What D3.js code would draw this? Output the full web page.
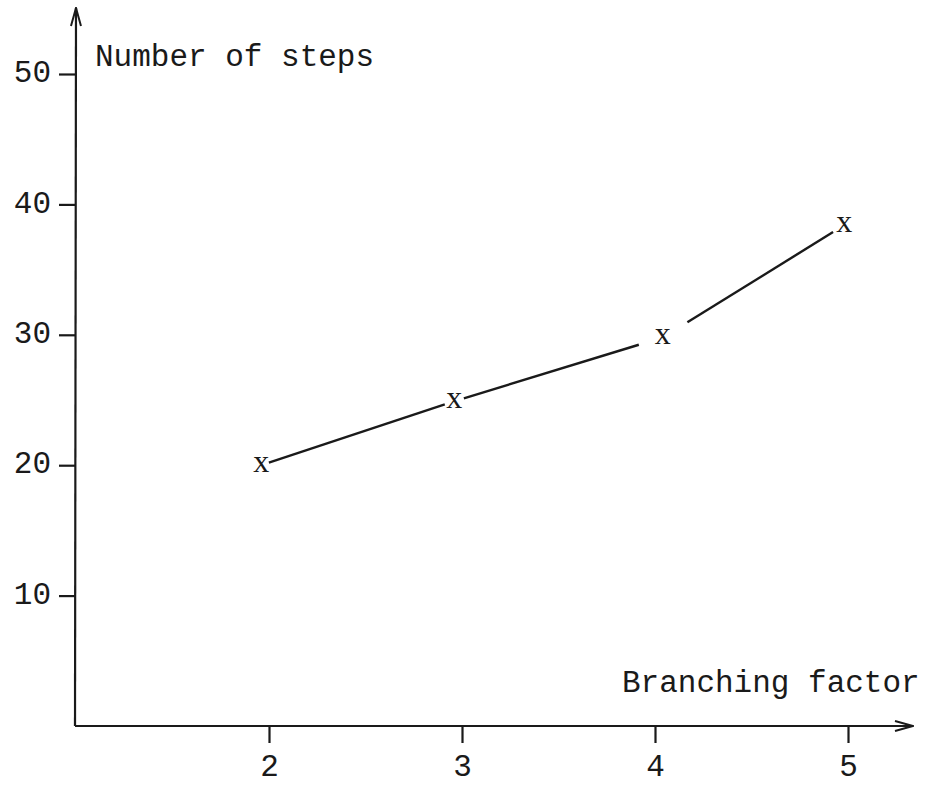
<!DOCTYPE html>
<html>
<head>
<meta charset="utf-8">
<script src="https://cdn.jsdelivr.net/npm/d3@7"></script>
<style>
  body { margin: 0; background: #fff; }
  svg text { fill: #1a1a1a; }
  .lbl { font-family: "Liberation Mono", "DejaVu Sans Mono", monospace; font-size: 31px; }
  .mark { font-family: "Liberation Serif", serif; font-size: 32px; }
</style>
</head>
<body>
<svg id="chart" width="927" height="786"></svg>
<script>
// data
const branching = [1.96, 2.96, 4.04, 4.98];
const steps = [20, 24.9, 29.8, 38.4];
const xTicks = [2, 3, 4, 5];
const yTicks = [10, 20, 30, 40, 50];
const xTitle = "Branching factor";
const yTitle = "Number of steps";

// gap left around each marker (start, end) for every segment
const gaps = [[8, 10], [10, 25], [29, 13]];

const svg = d3.select("#chart");
const ink = "#1a1a1a";

const x = d3.scaleLinear().domain([1, 5]).range([76, 848]);
const y = d3.scaleLinear().domain([0, 50]).range([726, 74]);

const ax0 = 75, ay0 = 726;

svg.append("defs").html(`
  <marker id="arr" viewBox="0 0 20 12" refX="19" refY="6" markerWidth="20" markerHeight="12" markerUnits="userSpaceOnUse" orient="auto">
    <path d="M1,1 L19,6 L1,11" fill="none" stroke="${ink}" stroke-width="2"/>
  </marker>`);

// axes lines with arrows
svg.append("line")
    .attr("x1", ax0).attr("y1", ay0).attr("x2", 913).attr("y2", ay0)
    .attr("stroke", ink).attr("stroke-width", 2.2)
    .attr("marker-end", "url(#arr)");
svg.append("line")
    .attr("x1", ax0).attr("y1", ay0).attr("x2", ax0 + 1).attr("y2", 8)
    .attr("stroke", ink).attr("stroke-width", 2.2)
    .attr("marker-end", "url(#arr)");

// x axis ticks
const gx = svg.append("g")
    .attr("transform", `translate(0,${ay0})`)
    .call(d3.axisBottom(x).tickValues(xTicks).tickSize(17).tickPadding(11).tickFormat(d3.format("d")));
gx.select(".domain").remove();

// y axis ticks
const gy = svg.append("g")
    .attr("transform", `translate(${ax0},0)`)
    .call(d3.axisLeft(y).tickValues(yTicks).tickSize(16).tickPadding(8).tickFormat(d3.format("d")));
gy.select(".domain").remove();

[gx, gy].forEach(g => {
    g.selectAll(".tick line").attr("stroke", ink).attr("stroke-width", 2.2);
    g.selectAll(".tick text").attr("class", "lbl").attr("fill", ink).attr("font-family", null).attr("font-size", null);
});
gy.selectAll(".tick text").attr("dy", "0.25em");

// titles
svg.append("text").attr("class", "lbl").attr("x", 95).attr("y", 66).text(yTitle);
svg.append("text").attr("class", "lbl").attr("x", 622).attr("y", 692).text(xTitle);

// line segments between markers, with gaps
const pts = branching.map((b, i) => [x(b), y(steps[i])]);
const segs = d3.pairs(pts).map(([a, b], i) => {
    const dx = b[0] - a[0], dy = b[1] - a[1];
    const len = Math.hypot(dx, dy);
    const ux = dx / len, uy = dy / len;
    return {
        x1: a[0] + ux * gaps[i][0], y1: a[1] + uy * gaps[i][0],
        x2: b[0] - ux * gaps[i][1], y2: b[1] - uy * gaps[i][1]
    };
});

svg.selectAll("line.seg")
    .data(segs)
    .enter()
    .append("line")
    .attr("class", "seg")
    .attr("x1", d => d.x1).attr("y1", d => d.y1)
    .attr("x2", d => d.x2).attr("y2", d => d.y2)
    .attr("stroke", ink).attr("stroke-width", 2.4);

// x markers
svg.selectAll("text.mark")
    .data(pts)
    .enter()
    .append("text")
    .attr("class", "mark")
    .attr("x", d => d[0]).attr("y", d => d[1])
    .attr("text-anchor", "middle")
    .attr("dy", "0.22em")
    .text("x");
</script>
</body>
</html>
